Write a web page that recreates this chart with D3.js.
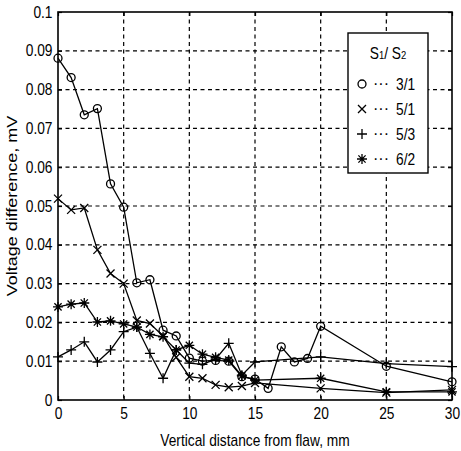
<!DOCTYPE html>
<html>
<head>
<meta charset="utf-8">
<script src="https://cdn.jsdelivr.net/npm/d3@7"></script>
<style>
  html, body { margin: 0; padding: 0; background: #fff; }
  svg { display: block; }
  text { font-family: "Liberation Sans", Arial, sans-serif; fill: #000; }
</style>
</head>
<body>
<svg id="chart" width="461" height="451"></svg>
<script>
// Distance from flaw (mm)
const xDense = [0,1,2,3,4,5,6,7,8,9,10,11,12,13,14,15,16,17,18,19,20,25,30];
const xSparse = [0,1,2,3,4,5,6,7,8,9,10,11,12,13,14,15,20,25,30];

// Voltage difference (mV) for each S1/S2 ratio
const v31 = [0.0881,0.0831,0.0735,0.0751,0.0557,0.0497,0.0302,0.0310,0.0180,0.0165,0.0108,0.0100,0.0102,0.0100,0.0060,0.0054,0.0030,0.0137,0.0098,0.0107,0.0190,0.0087,0.0047];
const v51 = [0.0519,0.0490,0.0495,0.0387,0.0326,0.0300,0.0205,0.0197,0.0165,0.0110,0.0060,0.0056,0.0039,0.0033,0.0036,0.0044,0.0030,0.0019,0.0026];
const v53 = [0.0111,0.0129,0.0150,0.0098,0.0129,0.0176,0.0188,0.0120,0.0056,0.0129,0.0095,0.0092,0.0105,0.0146,0.0064,0.0098,0.0111,0.0094,0.0086];
const v62 = [0.0240,0.0247,0.0250,0.0201,0.0204,0.0196,0.0188,0.0169,0.0163,0.0129,0.0141,0.0118,0.0110,0.0103,0.0062,0.0051,0.0056,0.0021,0.0021];

const xTicks = [0,5,10,15,20,25,30];
const yTicks = [0,0.01,0.02,0.03,0.04,0.05,0.06,0.07,0.08,0.09,0.1];
const yTickLabels = ["0","0.01","0.02","0.03","0.04","0.05","0.06","0.07","0.08","0.09","0.1"];

const legendTitle = ["S", "1", "/ S", "2"];
const seriesNames = ["3/1","5/1","5/3","6/2"];
const seriesMarkers = ["circle","cross","plus","star"];

const series = [
  { name: seriesNames[0], marker: seriesMarkers[0], xs: xDense,  vs: v31 },
  { name: seriesNames[1], marker: seriesMarkers[1], xs: xSparse, vs: v51 },
  { name: seriesNames[2], marker: seriesMarkers[2], xs: xSparse, vs: v53 },
  { name: seriesNames[3], marker: seriesMarkers[3], xs: xSparse, vs: v62 }
];

const SX = 0.86; // horizontal squeeze of the lettering
const L = 58, R = 452, T = 12, B = 400;
const svg = d3.select("#chart");
const x = d3.scaleLinear().domain([0, 30]).range([L, R]);
const y = d3.scaleLinear().domain([0, 0.1]).range([B, T]);

// narrow text placed at (px, py)
function narrowText(parent, px, py, str, anchor, size) {
  return parent.append("text")
    .attr("transform", `translate(${px},${py}) scale(${SX},1)`)
    .attr("text-anchor", anchor || "start")
    .attr("font-size", size || 16)
    .text(str);
}

// dashed grid
const grid = svg.append("g").attr("stroke", "#000").attr("stroke-width", 1.2)
  .attr("stroke-dasharray", "4,3.5").attr("fill", "none");
grid.selectAll("line.gx").data(xTicks.filter(d => d > 0 && d < 30)).join("line")
  .attr("x1", d => x(d)).attr("x2", d => x(d)).attr("y1", T).attr("y2", B);
grid.selectAll("line.gy").data(yTicks.filter(d => d > 0 && d < 0.1)).join("line")
  .attr("y1", d => y(d)).attr("y2", d => y(d)).attr("x1", L).attr("x2", R);

// axes with inward ticks
const xAxis = d3.axisBottom(x).tickValues(xTicks).tickSize(-4).tickPadding(9).tickFormat(d3.format("d"));
const yAxis = d3.axisLeft(y).tickValues(yTicks).tickSize(-4).tickPadding(6)
  .tickFormat((d, i) => yTickLabels[i]);
const gx = svg.append("g").attr("transform", `translate(0,${B})`).call(xAxis);
const gy = svg.append("g").attr("transform", `translate(${L},0)`).call(yAxis);
[gx, gy].forEach(g => {
  g.select(".domain").remove();
  g.selectAll("line").attr("stroke", "#000").attr("stroke-width", 1.2);
  g.selectAll("text").attr("font-size", 16)
    .attr("font-family", '"Liberation Sans", Arial, sans-serif')
    .attr("transform", `scale(${SX},1)`);
});
gy.selectAll("text").attr("x", -5.5 / SX);
gx.selectAll("text").attr("y", 8);
svg.append("g").attr("transform", `translate(0,${T})`)
  .call(d3.axisTop(x).tickValues(xTicks).tickSize(-4).tickFormat(""))
  .call(g => { g.select(".domain").remove(); g.selectAll("line").attr("stroke", "#000").attr("stroke-width", 1.2); });
svg.append("g").attr("transform", `translate(${R},0)`)
  .call(d3.axisRight(y).tickValues(yTicks).tickSize(-4).tickFormat(""))
  .call(g => { g.select(".domain").remove(); g.selectAll("line").attr("stroke", "#000").attr("stroke-width", 1.2); });

// plot frame
svg.append("rect").attr("x", L).attr("y", T).attr("width", R - L).attr("height", B - T)
  .attr("fill", "none").attr("stroke", "#000").attr("stroke-width", 1.6);

// marker shapes
function markerPath(type) {
  switch (type) {
    case "circle": return d3.symbol(d3.symbolCircle, 50)();
    case "cross": return "M-4,-4L4,4M-4,4L4,-4";
    case "plus": return "M-5,0L5,0M0,-5L0,5";
    case "star": return "M-5,0L5,0M0,-5L0,5M-3.6,-3.6L3.6,3.6M-3.6,3.6L3.6,-3.6";
  }
}

const line = d3.line().x(d => x(d[0])).y(d => y(d[1]));
series.forEach(s => {
  const pts = s.xs.map((xv, i) => [xv, s.vs[i]]);
  svg.append("path").datum(pts).attr("d", line)
    .attr("fill", "none").attr("stroke", "#000").attr("stroke-width", 1.3);
  svg.append("g").selectAll("path").data(pts).join("path")
    .attr("transform", d => `translate(${x(d[0])},${y(d[1])})`)
    .attr("d", markerPath(s.marker))
    .attr("fill", "none").attr("stroke", "#000").attr("stroke-width", 1.3);
});

// legend
const lg = svg.append("g");
lg.append("rect").attr("x", 348).attr("y", 33).attr("width", 80).attr("height", 140)
  .attr("fill", "#fff").attr("stroke", "#000").attr("stroke-width", 1.4);
const title = narrowText(lg, 388, 59, null, "middle", 16);
title.append("tspan").text(legendTitle[0]);
title.append("tspan").attr("font-size", 11).text(legendTitle[1]);
title.append("tspan").text(legendTitle[2]);
title.append("tspan").attr("font-size", 11).text(legendTitle[3]);
series.forEach((s, i) => {
  const cy = 84 + i * 25;
  lg.append("path").attr("transform", `translate(362,${cy})`).attr("d", markerPath(s.marker))
    .attr("fill", "none").attr("stroke", "#000").attr("stroke-width", 1.3);
  lg.append("text").attr("x", 381).attr("y", cy + 5).attr("text-anchor", "middle")
    .attr("font-size", 16).text("···");
  narrowText(lg, 396, cy + 6, s.name, "start", 16);
});

// axis titles
narrowText(svg, (L + R) / 2, 446, "Vertical distance from flaw, mm", "middle", 16);
svg.append("text").attr("transform", `translate(17,${(T + B) / 2}) rotate(-90) scale(1,${SX})`)
  .attr("text-anchor", "middle").attr("font-size", 18).text("Voltage difference, mV");
</script>
</body>
</html>
